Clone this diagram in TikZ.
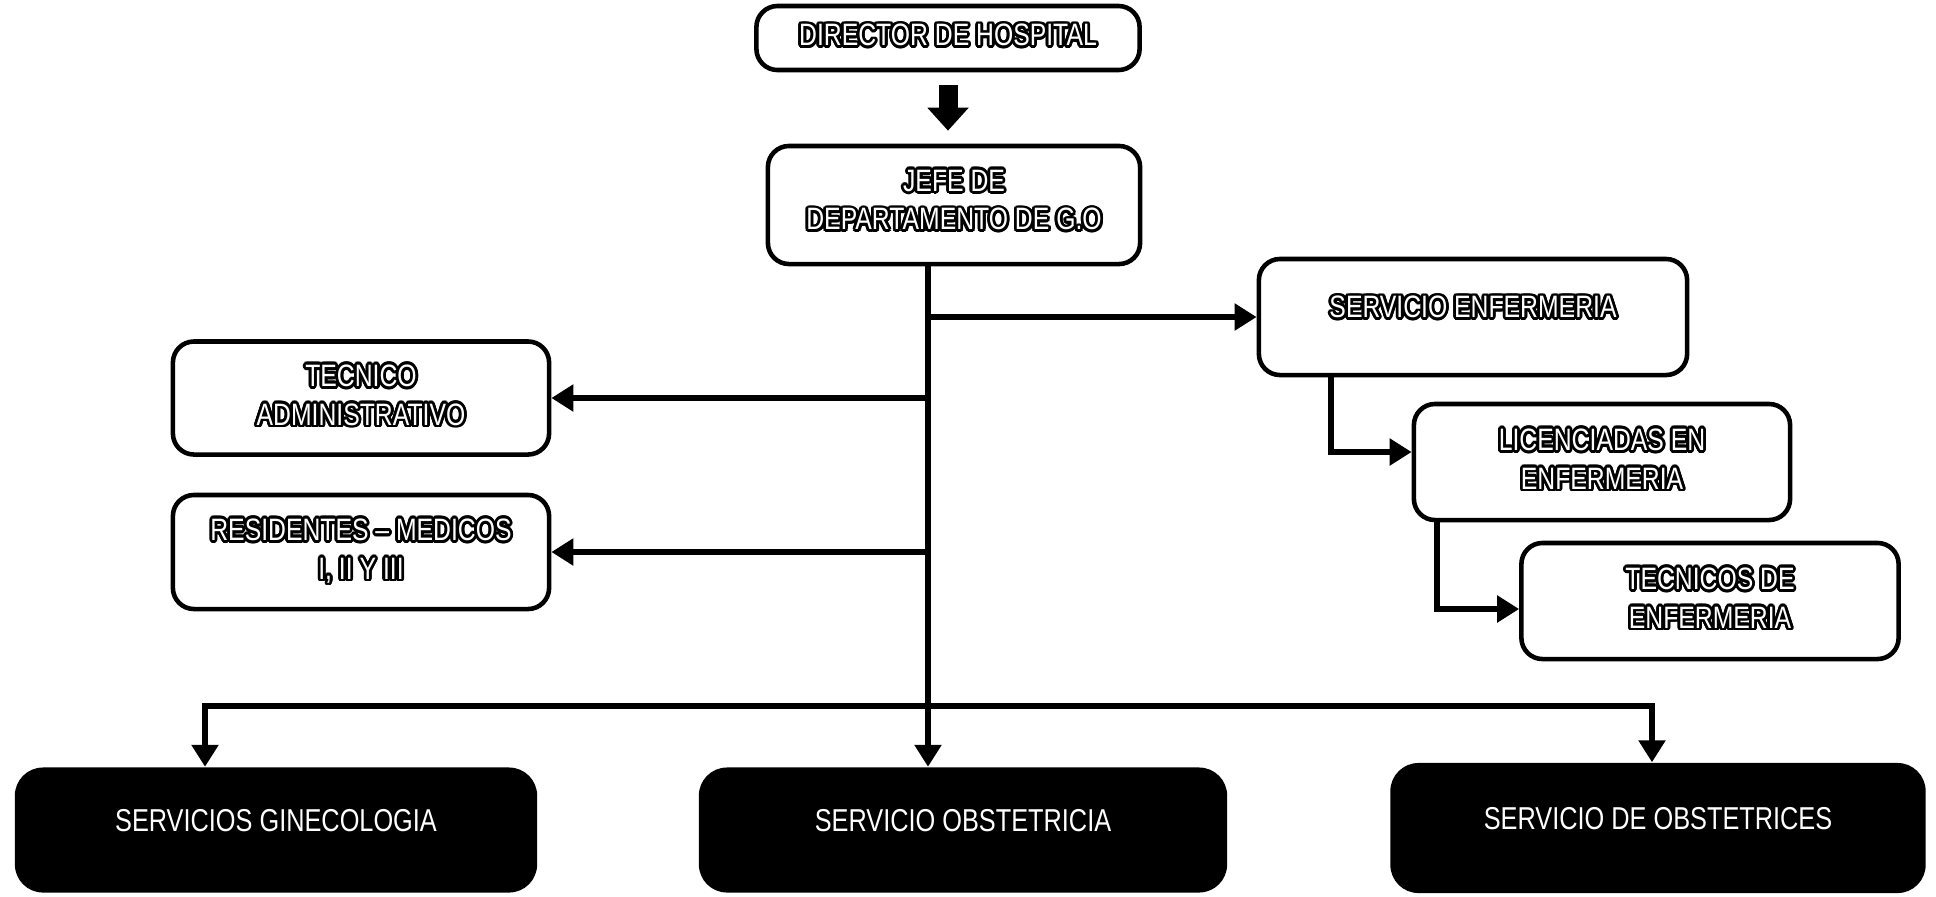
\documentclass[tikz,border=0pt]{standalone}
\usepackage{fontspec}
\setmainfont{Liberation Sans}[FakeStretch=0.8]
\usepackage{contour}
\contourlength{0.8pt}
\usetikzlibrary{arrows.meta,calc,positioning}

% white letters with a black outline
\newcommand{\olt}[1]{{\color{white}\contour{black}{#1}}}

\tikzset{
  unit_box/.style={draw, line width=1.3pt, rounded corners=6pt, fill=white, align=center,
    text depth=0.6mm, font=\fontsize{8.8}{11}\selectfont},
  serv_box/.style={fill=black, rounded corners=8pt, text=white, text depth=2mm,
    font=\fontsize{9}{11}\selectfont},
  conn/.style={line width=1.7pt, -{Triangle[length=2.2mm,width=2.6mm]}},
  conn_both/.style={line width=1.7pt, {Triangle[length=2.2mm,width=2.6mm]}-{Triangle[length=2.2mm,width=2.6mm]}},
}

\begin{document}
\begin{tikzpicture}[x=0.01cm, y=-0.01cm]
    \useasboundingbox (0,0) rectangle (1936,896);
    \node[unit_box, minimum width=3.83cm, minimum height=0.64cm] (dir)  at (948,38)   {\olt{DIRECTOR DE HOSPITAL}};
    \node[unit_box, minimum width=3.72cm, minimum height=1.18cm, text depth=1mm] (jefe) at (954,205) {\olt{JEFE DE}\\\olt{DEPARTAMENTO DE G.O}};
    \node[unit_box, minimum width=4.28cm, minimum height=1.16cm, text depth=2mm] (enf) at (1473,317) {\olt{SERVICIO ENFERMERIA}};
    \node[unit_box, minimum width=3.76cm, minimum height=1.13cm] (adm)  at (361,398)  {\olt{TECNICO}\\\olt{ADMINISTRATIVO}};
    \node[unit_box, minimum width=3.76cm, minimum height=1.14cm] (res)  at (361,552)  {\olt{RESIDENTES -- MEDICOS}\\\olt{I, II Y III}};
    \node[unit_box, minimum width=3.76cm, minimum height=1.16cm] (lic)  at (1602,462) {\olt{LICENCIADAS EN}\\\olt{ENFERMERIA}};
    \node[unit_box, minimum width=3.77cm, minimum height=1.16cm] (tec)  at (1710,601) {\olt{TECNICOS DE}\\\olt{ENFERMERIA}};
    \node[serv_box, minimum width=5.22cm, minimum height=1.25cm] (gin)  at (276,830)  {SERVICIOS GINECOLOGIA};
    \node[serv_box, minimum width=5.28cm, minimum height=1.25cm] (obs)  at (963,830)  {SERVICIO OBSTETRICIA};
    \node[serv_box, minimum width=5.35cm, minimum height=1.30cm] (obt)  at (1658,828) {SERVICIO DE OBSTETRICES};

    \coordinate (trunk) at (928,0);
    \coordinate (bus_l) at (205,706);
    \coordinate (bus_r) at (1652,706);
    \coordinate (enf_x) at (1331,0);
    \coordinate (lic_x) at (1437,0);

    \draw[line width=1.9mm, -{Triangle[length=2.3mm,width=4mm]}, shorten <=1.3mm, shorten >=1.3mm]
      (dir.south) -- (dir.south |- jefe.north);
    \draw[conn] (jefe.south -| trunk) -- (obs.north -| trunk);
    \draw[conn] (trunk |- enf.west) -- (enf.west);
    \draw[conn] (trunk |- adm.east) -- (adm.east);
    \draw[conn] (trunk |- res.east) -- (res.east);
    \draw[conn_both] (bus_l |- gin.north) -- (bus_l) -- (bus_r) -- (bus_r |- obt.north);
    \draw[conn] (enf.south -| enf_x) |- ($(lic.west)+(0,-10)$);
    \draw[conn] (lic.south -| lic_x) |- ($(tec.west)+(0,8)$);
\end{tikzpicture}
\end{document}
